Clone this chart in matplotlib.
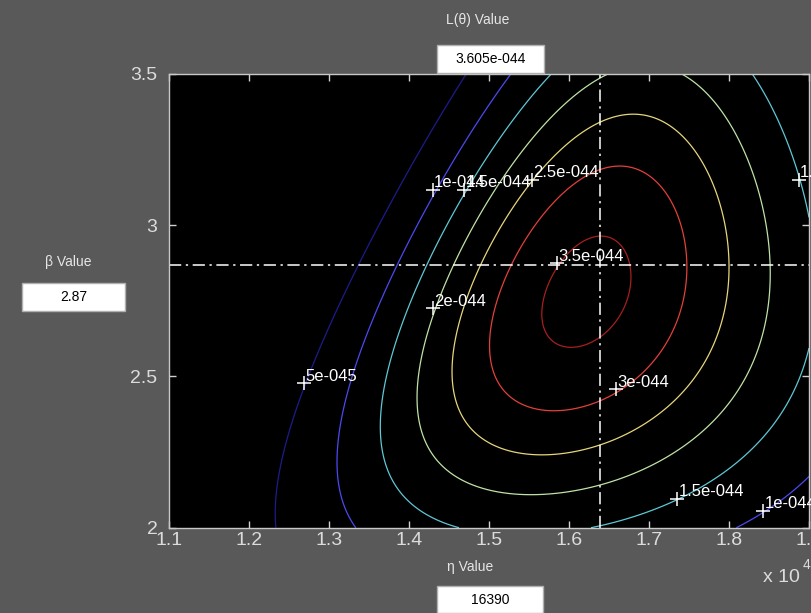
import numpy as np
import matplotlib.pyplot as plt
from matplotlib.patches import Rectangle

# failure times behind the Weibull likelihood surface L(eta, beta)
times = [8165, 8564, 9930, 11196, 12482, 13877, 15473, 17436, 20228, 26668]

levels = [5e-45, 1e-44, 1.5e-44, 2e-44, 2.5e-44, 3e-44, 3.5e-44]
level_colors = ['#1c1c8c', '#4a4af0', '#5ec8d6', '#bfe3a6', '#e6d67a', '#e2403a', '#a5201e']

# clabel points (eta, beta) and the strings matlab printed
lab_eta = [14300, 14690, 15540, 14300, 15850, 16590, 12690, 17350, 18430, 18870]
lab_beta = [3.116, 3.116, 3.149, 2.725, 2.874, 2.457, 2.477, 2.096, 2.056, 3.149]
lab_text = ['1e-044', '1.5e-044', '2.5e-044', '2e-044', '3.5e-044', '3e-044',
            '5e-045', '1.5e-044', '1e-044', '1.5e-044']

# selected point
eta_sel = 16390
beta_sel = 2.87
L_sel = '3.605e-044'

x_ticks = [11000, 12000, 13000, 14000, 15000, 16000, 17000, 18000, 19000]
x_ticklabels = ['1.1', '1.2', '1.3', '1.4', '1.5', '1.6', '1.7', '1.8', '1.9']
y_ticks = [2, 2.5, 3, 3.5]
y_ticklabels = ['2', '2.5', '3', '3.5']

W, H = 811, 613
bg = '#595959'
plain = ['Liberation Sans', 'DejaVu Sans']


def px(x, y):
    # pixel (from top left) -> figure fraction
    return x / W, 1 - y / H


t = np.array(times, dtype=float)
n = len(t)
eta = np.linspace(x_ticks[0], x_ticks[-1], 401)
beta = np.linspace(y_ticks[0], y_ticks[-1], 301)
E, B = np.meshgrid(eta, beta)
logL = (n * np.log(B) - n * B * np.log(E) + (B - 1) * np.log(t).sum()
        - ((t[:, None, None] / E) ** B).sum(axis=0))
L = np.exp(logL)

fig = plt.figure(figsize=(W / 100, H / 100), dpi=100, facecolor=bg)
ax = fig.add_axes([168.7 / W, (H - 527.7) / H, (809 - 168.7) / W, (527.7 - 74) / H],
                  facecolor='black')

ax.contour(E, B, L, levels=levels, colors=level_colors, linewidths=0.9)

dashdot = (0, (8, 3, 1.5, 3))
ax.axvline(eta_sel, color='white', ls=dashdot, lw=1.1)
ax.axhline(beta_sel, color='white', ls=dashdot, lw=1.1)

for e, b, s in zip(lab_eta, lab_beta, lab_text):
    ax.plot(e, b, '+', color='white', ms=10, mew=1.1)
    ax.annotate(s, (e, b), xytext=(1, 2), textcoords='offset points',
                color='white', fontsize=12, family=plain,
                ha='left', va='baseline', annotation_clip=False)

ax.set_xlim(x_ticks[0], x_ticks[-1])
ax.set_ylim(y_ticks[0], y_ticks[-1])
ax.set_xticks(x_ticks)
ax.set_xticklabels(x_ticklabels, family=plain, fontsize=14)
ax.set_yticks(y_ticks)
ax.set_yticklabels(y_ticklabels, family=plain, fontsize=14)
ax.tick_params(direction='in', length=5, width=1, top=True, right=True,
               color='#d0d0d0', labelcolor='#dcdcdc')
ax.tick_params(axis='x', pad=3)
ax.tick_params(axis='y', pad=8)
for sp in ax.spines.values():
    sp.set_color('#c8c8c8')
    sp.set_linewidth(1)

# labels and readout boxes around the axes
fig.text(*px(478, 20), 'L(θ) Value', color='#e6e6e6', fontsize=10,
         family=plain, ha='center', va='center')
fig.text(*px(68, 262), 'β Value', color='#e6e6e6', fontsize=10,
         family=plain, ha='center', va='center')
fig.text(*px(470, 567), 'η Value', color='#e6e6e6', fontsize=10,
         family=plain, ha='center', va='center')
fig.text(*px(763, 578), 'x 10', color='#dcdcdc', fontsize=14,
         family=plain, ha='left', va='center')
fig.text(*px(803, 565), '4', color='#dcdcdc', fontsize=10,
         family=plain, ha='left', va='center')

boxes = [(437, 45, 544, 73, L_sel), (22, 283, 125, 311, '%.2f' % beta_sel),
         (437, 586, 543, 613, '%d' % eta_sel)]
for x0, y0, x1, y1, s in boxes:
    fig.add_artist(Rectangle(px(x0, y1), (x1 - x0) / W, (y1 - y0) / H,
                             transform=fig.transFigure, facecolor='white',
                             edgecolor='#b0b0b0', lw=1))
    fig.text(*px((x0 + x1) / 2, (y0 + y1) / 2), s, color='black', fontsize=10,
             family=plain, ha='center', va='center')

plt.savefig('out.png', dpi=100, facecolor=bg)
